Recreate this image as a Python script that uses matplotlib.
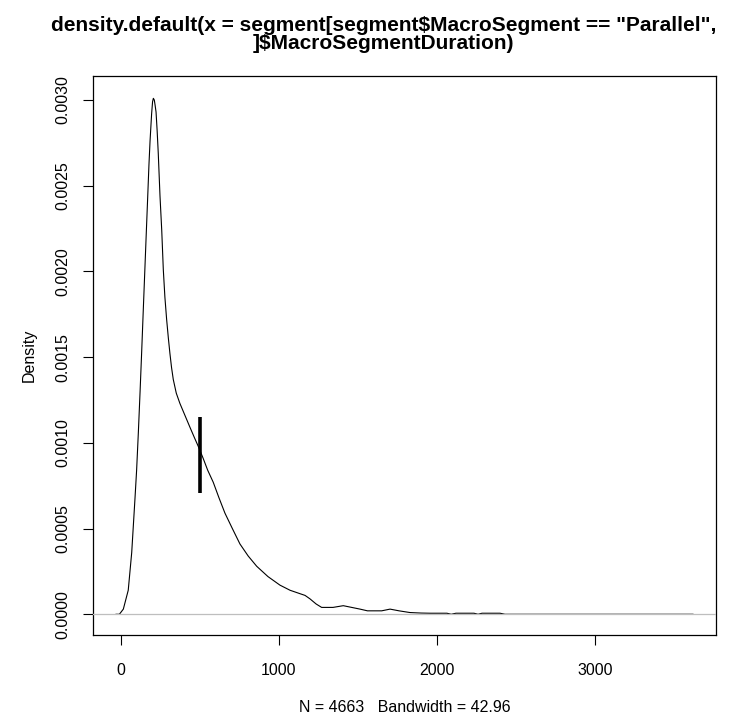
import matplotlib.pyplot as plt

plt.rcParams['font.family'] = ['Liberation Sans', 'DejaVu Sans']

# density estimate
dens_x = [-31, -10, 15, 46, 68, 89, 99, 110, 121, 131, 141, 152, 160, 169,
          177, 184, 194, 200, 205, 211, 216, 222, 229, 236, 247, 258, 268,
          278, 289, 300, 310, 320, 331, 350, 373, 405, 437, 465, 489, 520,
          549, 584, 620, 658, 705, 753, 805, 859, 930, 1006, 1070, 1133,
          1165, 1196, 1235, 1270, 1342, 1407, 1460, 1513, 1560, 1597, 1650,
          1703, 1760, 1829, 1900, 1956, 2063, 2090, 2120, 2234, 2260, 2285,
          2399, 2430, 3620]
dens_y = [0.0, 0.0, 0.00003, 0.00014, 0.00036, 0.00068, 0.00084, 0.00106,
          0.00130, 0.00153, 0.00177, 0.00203, 0.00222, 0.00243, 0.00262,
          0.00276, 0.00292, 0.00299, 0.00301, 0.00300, 0.00297, 0.00293,
          0.00282, 0.00269, 0.00244, 0.00224, 0.00201, 0.00185, 0.00172,
          0.00161, 0.00152, 0.00144, 0.00137, 0.00129, 0.00123, 0.00116,
          0.00109, 0.00103, 0.00098, 0.00091, 0.00084, 0.00077, 0.00068,
          0.00059, 0.00050, 0.00041, 0.00034, 0.00028, 0.00022, 0.00017,
          0.00014, 0.00012, 0.00011, 0.00009, 0.00006, 0.00004, 0.00004,
          0.00005, 0.00004, 0.00003, 0.00002, 0.00002, 0.00002, 0.00003,
          0.00002, 0.00001, 0.000007, 0.000006, 0.000006, 0.0, 0.000006,
          0.000006, 0.0, 0.000006, 0.000006, 0.0, 0.0]

# marker segment
mark_x = 500
mark_y = [0.00071, 0.00115]

xticks = [0, 1000, 2000, 3000]
yticks = [0.0, 0.0005, 0.0010, 0.0015, 0.0020, 0.0025, 0.0030]
ytick_labels = ['0.0000', '0.0005', '0.0010', '0.0015', '0.0020', '0.0025', '0.0030']

fig = plt.figure(figsize=(7.5, 7.22), dpi=100)
ax = fig.add_axes([0.124, 0.1205, 0.8307, 0.7742])

ax.plot(dens_x, dens_y, color='black', lw=0.8, zorder=2)
ax.axhline(0, color='#bebebe', lw=0.9, zorder=3)
ax.plot([mark_x, mark_x], mark_y, color='black', lw=2.6, solid_capstyle='butt', zorder=4)

ax.set_xlim(-177, 3766)
ax.set_ylim(-0.000121, 0.00314)
ax.set_xticks(xticks)
ax.set_xticklabels([str(t) for t in xticks])
ax.set_yticks(yticks)
ax.set_yticklabels(ytick_labels, rotation=90, va='center')
ax.tick_params(direction='out', length=7, width=0.8, labelsize=11.5, pad=6)
ax.tick_params(axis='x', pad=13)
ax.tick_params(axis='y', pad=9)
for s in ax.spines.values():
    s.set_linewidth(0.9)

ax.set_ylabel('Density', fontsize=11.5, labelpad=14)
ax.set_xlabel('N = 4663   Bandwidth = 42.96', fontsize=11.5, labelpad=16)
fig.text(0.511, 0.978,
         'density.default(x = segment[segment$MacroSegment == "Parallel",\n]$MacroSegmentDuration)',
         ha='center', va='top', fontsize=15, fontweight='bold', linespacing=0.95)

fig.savefig('out.png', dpi=100)
